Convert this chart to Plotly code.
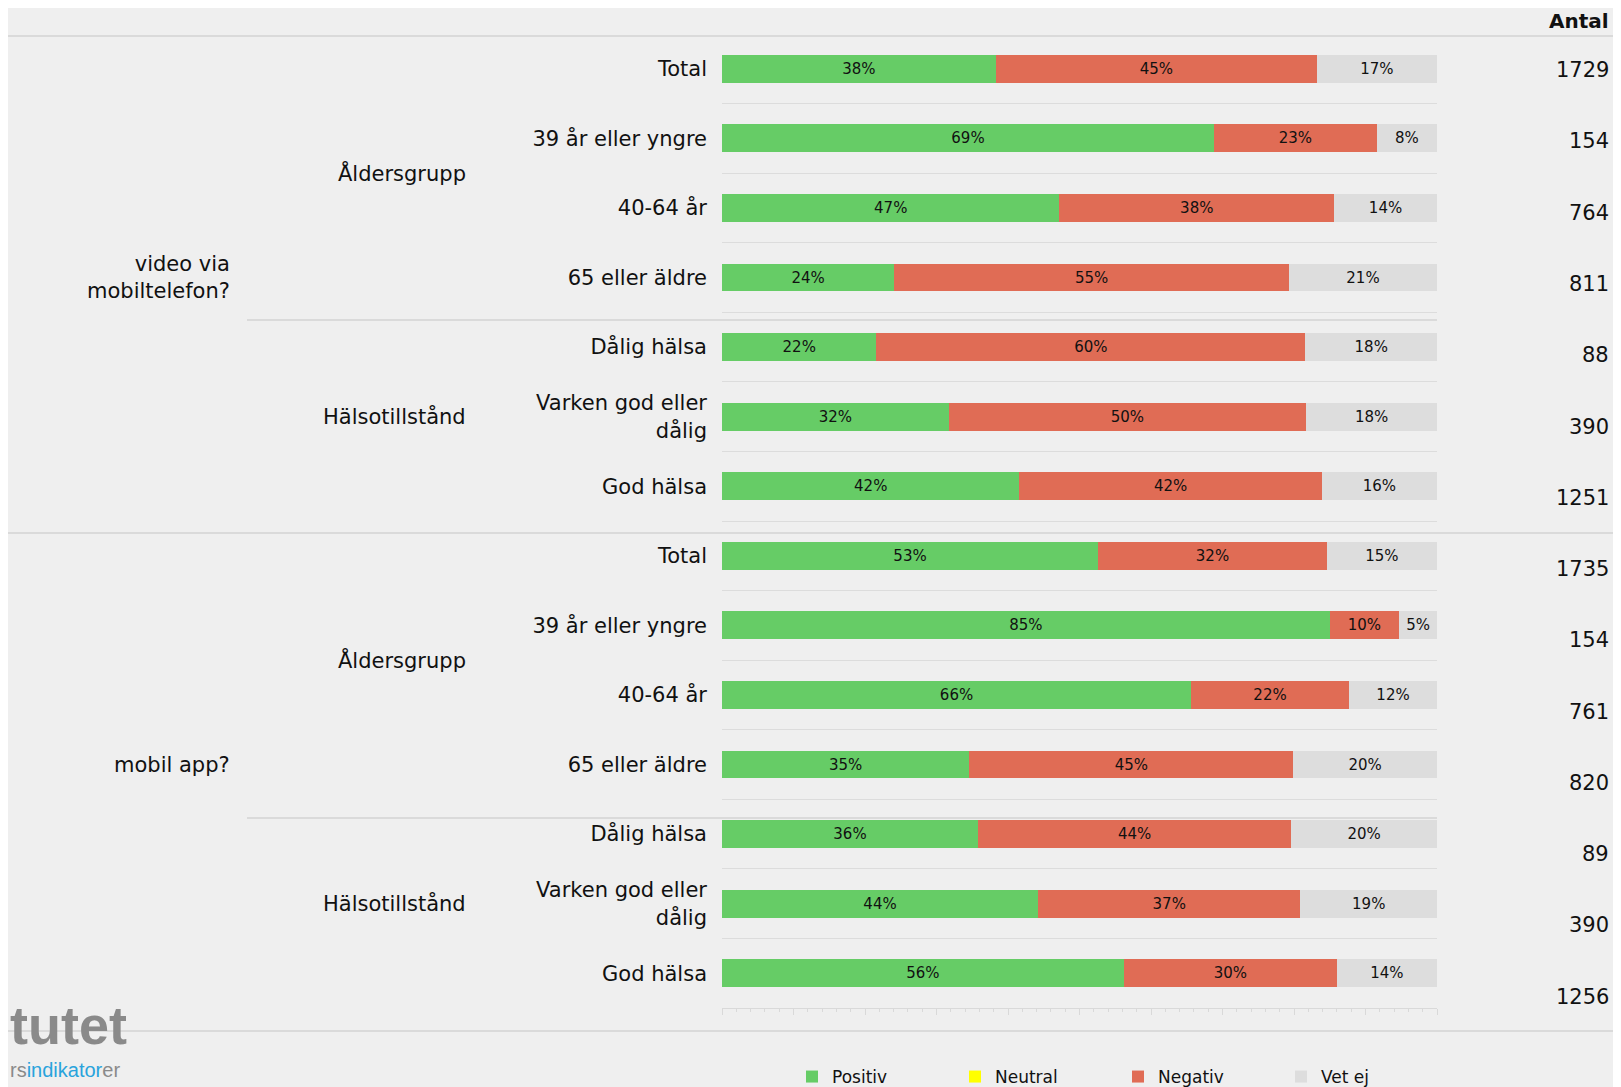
import plotly.graph_objects as go

FONT_FAMILY = "DejaVu Sans"
COLOR_POS = "#66cc66"
COLOR_NEU = "#ffff00"
COLOR_NEG = "#e06c55"
COLOR_VET = "#dddddd"
COLOR_FONT = "#111111"
COLOR_LINE = "#d9d9d9"
COLOR_BG = "#efefef"

# page body has an 8px margin, so the figure is drawn 8px in from the top left
OFF = 8
W, H = 1621 - OFF, 1087 - OFF
TOP, BOTTOM = 34 - OFF, 79

# Data
categories = [
    "Total", "39 år eller yngre", "40-64 år", "65 eller äldre",
    "Dålig hälsa", "Varken god eller<br>dålig", "God hälsa",
    "Total", "39 år eller yngre", "40-64 år", "65 eller äldre",
    "Dålig hälsa", "Varken god eller<br>dålig", "God hälsa",
]
groups = ["Åldersgrupp", "Hälsotillstånd", "Åldersgrupp", "Hälsotillstånd"]
group_rows = [1.5, 5, 8.5, 12]
questions = ["video via<br>mobiltelefon?", "mobil app?"]
question_rows = [3, 10]

positiv = [38.3, 68.8, 47.2, 24.1, 21.6, 31.7, 41.6, 52.6, 85.0, 65.6, 34.6, 35.8, 44.2, 56.2]
neutral = [0] * 14
negativ = [44.9, 22.8, 38.4, 55.2, 60.0, 50.0, 42.3, 32.0, 9.7, 22.1, 45.3, 43.8, 36.7, 29.8]
vet_ej = [16.8, 8.4, 14.4, 20.7, 18.4, 18.3, 16.1, 15.4, 5.3, 12.3, 20.1, 20.4, 19.1, 14.0]
antal = [1729, 154, 764, 811, 88, 390, 1251, 1735, 154, 761, 820, 89, 390, 1256]

rows = list(range(len(categories)))
GROUP_X = {"Åldersgrupp": 402, "Hälsotillstånd": 394}


def px_x(px):
    return (px - OFF) / W


def px_y(py):
    return 1 - (py - OFF - TOP) / (H - TOP - BOTTOM)


fig = go.Figure()

series = [
    ("Positiv", positiv, COLOR_POS, True),
    ("Neutral", neutral, COLOR_NEU, False),
    ("Negativ", negativ, COLOR_NEG, True),
    ("Vet ej", vet_ej, COLOR_VET, True),
]
for name, vals, color, show_text in series:
    fig.add_trace(go.Bar(
        x=vals,
        y=rows,
        orientation="h",
        name=name,
        width=0.4,
        marker=dict(color=color, line=dict(width=0)),
        texttemplate="%{x:.0f}%" if show_text else None,
        textposition="inside" if show_text else "none",
        insidetextanchor="middle",
        textangle=0,
        textfont=dict(family=FONT_FAMILY, size=15, color=COLOR_FONT),
        hoverinfo="skip",
    ))

annotations = []

# Antal column
annotations.append(dict(
    x=px_x(1611), y=px_y(21), xref="paper", yref="paper",
    text="<b>Antal</b>", showarrow=False, xanchor="right", yanchor="middle",
    font=dict(size=20, color=COLOR_FONT),
))
for i, n in enumerate(antal):
    annotations.append(dict(
        x=px_x(1611), y=i * 1.0245 + 0.02, xref="paper", yref="y",
        text=str(n), showarrow=False, xanchor="right", yanchor="middle",
        font=dict(size=21, color=COLOR_FONT),
    ))

# Group labels
for g, r in zip(groups, group_rows):
    annotations.append(dict(
        x=px_x(GROUP_X[g]), y=r, xref="paper", yref="y",
        text=g, showarrow=False, xanchor="center", yanchor="middle",
        font=dict(size=21, color=COLOR_FONT),
    ))

# Question labels
for q, r in zip(questions, question_rows):
    annotations.append(dict(
        x=px_x(232), y=r, xref="paper", yref="y",
        text=q, showarrow=False, xanchor="right", yanchor="middle", align="right",
        font=dict(size=21, color=COLOR_FONT),
    ))

# Logo fragment
annotations.append(dict(
    x=0, y=px_y(1025), xref="paper", yref="paper",
    text="<b>tutet</b>", showarrow=False, xanchor="left", yanchor="middle",
    font=dict(family="Liberation Sans", size=54, color="#8a8a8a"),
))
annotations.append(dict(
    x=0, y=px_y(1070), xref="paper", yref="paper",
    text="rs<span style='color:#29a3dc'>indikator</span>er",
    showarrow=False, xanchor="left", yanchor="middle",
    font=dict(family="Liberation Sans", size=20, color="#8a8a8a"),
))

# Separator lines
shapes = []
for py, x0, x1 in [(36, 8, 1621), (320, 247, 1437), (533, 8, 1621), (818, 247, 1437), (1031, 8, 1621)]:
    shapes.append(dict(
        type="line", xref="paper", yref="paper",
        x0=px_x(x0), x1=px_x(x1), y0=px_y(py), y1=px_y(py),
        line=dict(color="#dadada", width=2),
    ))

fig.update_layout(
    width=W,
    height=H,
    barmode="stack",
    paper_bgcolor=COLOR_BG,
    plot_bgcolor="rgba(0,0,0,0)",
    margin=dict(t=TOP, b=BOTTOM, l=0, r=0, autoexpand=False),
    font=dict(family=FONT_FAMILY, size=21, color=COLOR_FONT),
    xaxis=dict(
        domain=[px_x(722), px_x(1437)],
        range=[0, 100],
        showgrid=False,
        zeroline=False,
        showticklabels=False,
        showline=True,
        linecolor=COLOR_LINE,
        ticks="outside",
        dtick=10,
        ticklen=6,
        tickcolor=COLOR_LINE,
        minor=dict(dtick=2, ticks="outside", ticklen=3, tickcolor=COLOR_LINE),
        fixedrange=True,
    ),
    yaxis=dict(
        tickmode="array",
        tickvals=rows,
        ticktext=categories,
        range=[13.5, -0.5],
        showgrid=False,
        zeroline=False,
        ticks="",
        ticklabelstandoff=14,
        tickfont=dict(size=21, color=COLOR_FONT),
        minor=dict(
            tickmode="array",
            tickvals=[r + 0.5 for r in rows[:-1]],
            showgrid=True,
            gridcolor="#dcdcdc",
            gridwidth=1,
        ),
        fixedrange=True,
    ),
    uniformtext=dict(minsize=15, mode="show"),
    showlegend=True,
    legend=dict(
        orientation="h",
        x=px_x(792),
        y=px_y(1077),
        xanchor="left",
        yanchor="middle",
        entrywidth=118,
        entrywidthmode="pixels",
        font=dict(size=17, color=COLOR_FONT),
        bgcolor="rgba(0,0,0,0)",
        traceorder="normal",
    ),
    annotations=annotations,
    shapes=shapes,
)

fig.write_html("out.html")
